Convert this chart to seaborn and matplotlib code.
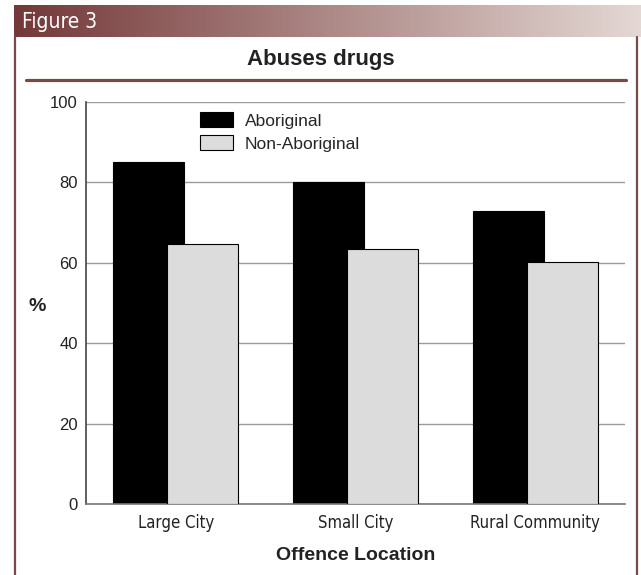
import numpy as np
import pandas as pd
import matplotlib
matplotlib.use("Agg")
import matplotlib.pyplot as plt
from matplotlib.lines import Line2D
from matplotlib import font_manager as fm
import seaborn as sns

# values
locations = ["Large City", "Small City", "Rural Community"]
aboriginal = [85, 80, 73]
non_aboriginal = [64.8, 63.5, 60.2]
groups = ["Aboriginal", "Non-Aboriginal"]
y_ticks = [0, 20, 40, 60, 80, 100]

df = pd.DataFrame({
    "location": locations * 2,
    "group": [groups[0]] * 3 + [groups[1]] * 3,
    "pct": aboriginal + non_aboriginal,
})

sns.set_style("white")
plt.rcParams["font.family"] = ["Liberation Sans", "DejaVu Sans"]

# look for a condensed sans face (the original uses Helvetica Condensed)
cond_file = None
for f in fm.fontManager.ttflist:
    nm = f.name
    if "Mono" in nm or "Serif" in nm or f.style != "normal":
        continue
    if f.weight not in (400, "normal", "regular", "book"):
        continue
    if "Narrow" in nm or "Condensed" in nm or str(f.stretch) in ("condensed", "semi-condensed"):
        cond_file = f.fname
        break


def cond_font(size):
    if cond_file:
        return fm.FontProperties(fname=cond_file, size=size)
    return fm.FontProperties(family="Liberation Sans", size=size * 0.9)


W, H = 641, 575
fig = plt.figure(figsize=(W / 100, H / 100), dpi=100)

# header band with gradient
hdr = fig.add_axes([14 / W, 1 - 37 / H, 1 - 14 / W, 32 / H])
c0 = np.array([116, 56, 56]) / 255
c1 = np.array([228, 216, 212]) / 255
t = np.linspace(0, 1, 256)
grad = (c0[None, :] * (1 - t[:, None]) + c1[None, :] * t[:, None])[None, :, :]
hdr.imshow(grad, aspect="auto", extent=[0, 1, 0, 1])
hdr.set_xlim(0, 1)
hdr.set_ylim(0, 1)
hdr.axis("off")
hdr.text(8 / 627, 0.47, "Figure 3", color="white", fontproperties=cond_font(15),
         va="center", ha="left")

# frame lines and title rule
maroon = "#7a4848"
fig.add_artist(Line2D([14.5 / W, 14.5 / W], [0, 1 - 37 / H], color=maroon, lw=1.6))
fig.add_artist(Line2D([637 / W, 637 / W], [0, 1 - 37 / H], color=maroon, lw=1.6))
fig.add_artist(Line2D([26 / W, 626 / W], [1 - 80 / H, 1 - 80 / H], color=maroon, lw=2.3))
fig.text(0.5, 1 - 60 / H, "Abuses drugs", ha="center", va="center",
         fontsize=16, fontweight="bold", color="#222222")

ax = fig.add_axes([86 / W, 1 - 504 / H, (625 - 86) / W, (504 - 102) / H])
sns.barplot(data=df, x="location", y="pct", hue="group", hue_order=groups,
            palette=["black", "#dcdcdc"], width=0.79, edgecolor="black",
            linewidth=0.8, saturation=1, ax=ax)

# bars overlap in the original
for i, p in enumerate(ax.patches):
    if i < 3:
        p.set_x(p.get_x() + 0.0475)
        p.set_zorder(2)
    else:
        p.set_x(p.get_x() - 0.0475)
        p.set_zorder(3)

ax.set_xlim(-0.5, 2.5)
ax.set_ylim(0, 100)
ax.set_yticks(y_ticks)
ax.yaxis.grid(True, color="#9a9a9a", lw=1)
ax.set_axisbelow(True)
ax.tick_params(length=0, colors="#222222")
ax.tick_params(axis="y", pad=6, labelsize=12)
ax.tick_params(axis="x", pad=7)
for lbl in ax.get_xticklabels():
    lbl.set_fontproperties(cond_font(12))

for s in ["top", "right"]:
    ax.spines[s].set_visible(False)
ax.spines["left"].set_color("#444444")
ax.spines["left"].set_linewidth(1.2)
ax.spines["bottom"].set_color("#777777")
ax.spines["bottom"].set_linewidth(1.2)

ax.set_xlabel("Offence Location", fontsize=14, fontweight="bold", labelpad=11, color="#222222")
ax.set_ylabel("%", fontsize=14, fontweight="bold", rotation=0, color="#222222",
              ha="center", va="center")
ax.yaxis.set_label_coords(-0.091, 0.4925)

leg = ax.legend(loc="upper left", bbox_to_anchor=(0.211, 0.975), frameon=False,
                fontsize=12.5, handlelength=1.9, handleheight=0.95, handletextpad=0.7,
                labelspacing=0.4, borderpad=0, borderaxespad=0)

fig.savefig("out.png", dpi=100)
